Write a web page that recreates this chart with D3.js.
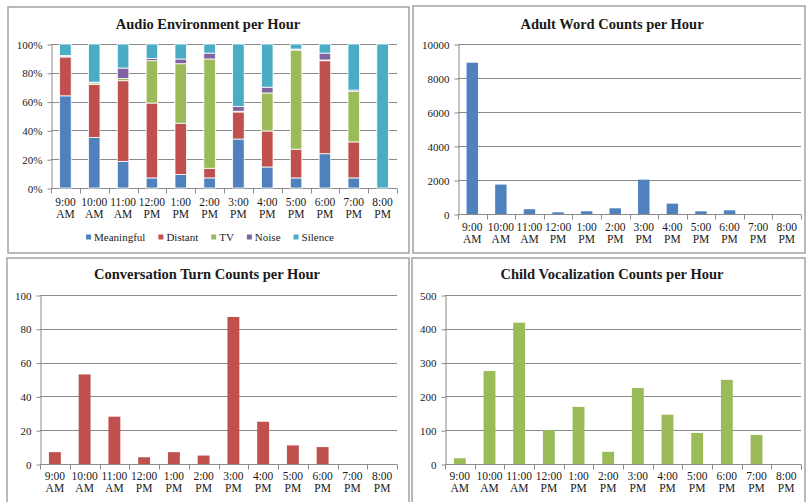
<!DOCTYPE html>
<html>
<head>
<meta charset="utf-8">
<script src="https://cdn.jsdelivr.net/npm/d3@7/dist/d3.min.js"></script>
<style>
  html, body { margin: 0; padding: 0; background: #fff; }
  svg { display: block; }
  text { font-family: "Liberation Serif", "Times New Roman", serif; fill: #1a1a1a; }
</style>
</head>
<body>
<svg id="chart" width="809" height="502"></svg>
<script>
// Hourly categories shared by all four panels
const hours = ["9:00 AM", "10:00 AM", "11:00 AM", "12:00 PM", "1:00 PM", "2:00 PM",
               "3:00 PM", "4:00 PM", "5:00 PM", "6:00 PM", "7:00 PM", "8:00 PM"];

// Audio environment shares (percent of each hour)
const audioKeys = ["Meaningful", "Distant", "TV", "Noise", "Silence"];
const meaningful = [64, 35, 18.5, 7, 9.3, 7, 34, 14.6, 7, 23.8, 7, 0];
const distant    = [27, 37, 56, 52, 35.7, 6.7, 18.8, 25, 20, 64.6, 25, 0];
const tv         = [0.5, 1, 1.5, 29.4, 41.3, 75.9, 0.5, 26.4, 68.8, 0.5, 35, 0];
const noise      = [0.5, 0.5, 7.3, 1.6, 3.3, 4.1, 3.4, 4, 0.7, 4.8, 1, 0];
const silence    = [8, 26.5, 16.7, 10, 10.4, 6.3, 43.3, 30, 3.5, 6.3, 32, 100];

// Hourly counts
const adultWords = [8900, 1730, 280, 100, 160, 335, 2020, 610, 157, 217, 0, 0];
const convTurns  = [7, 53, 28, 4, 7, 5, 87, 25, 11, 10, 0, 0];
const childVocs  = [17, 275, 418, 100, 169, 36, 225, 146, 92, 249, 86, 0];

// Tick values
const pctTicks   = [0, 0.2, 0.4, 0.6, 0.8, 1.0];
const wordTicks  = [0, 2000, 4000, 6000, 8000, 10000];
const turnTicks  = [0, 20, 40, 60, 80, 100];
const vocTicks   = [0, 100, 200, 300, 400, 500];

const colors = {
  Meaningful: "#4F81BD",
  Distant: "#C0504D",
  TV: "#9BBB59",
  Noise: "#8064A2",
  Silence: "#4BACC6"
};

const svg = d3.select("#chart");
const gridColor = "#8a8a8a";
const borderColor = "#a3a3a3";

function panelFrame(box) {
  svg.append("rect")
    .attr("x", box.x).attr("y", box.y)
    .attr("width", box.w).attr("height", box.h)
    .attr("fill", "#fff")
    .attr("stroke", borderColor)
    .attr("stroke-width", 1.5);
}

function setupPanel(p) {
  panelFrame(p.box);
  const x = d3.scaleBand().domain(hours).range([p.l, p.r])
    .paddingInner(0.6).paddingOuter(0.3);
  const y = d3.scaleLinear().domain([0, p.max]).range([p.b, p.t]);
  const g = svg.append("g");

  // horizontal gridlines
  g.append("g").selectAll("line").data(p.ticks).join("line")
    .attr("x1", p.l).attr("x2", p.r)
    .attr("y1", d => Math.round(y(d)) + 0.5).attr("y2", d => Math.round(y(d)) + 0.5)
    .attr("stroke", gridColor).attr("stroke-width", 1);

  // y axis
  const yAxis = d3.axisLeft(y).tickValues(p.ticks).tickFormat(p.fmt)
    .tickSize(4).tickPadding(5).tickSizeOuter(0);
  const ya = g.append("g").attr("transform", `translate(${Math.round(p.l) + 0.5},0.5)`).call(yAxis);
  ya.selectAll("path, line").attr("stroke", gridColor);
  ya.selectAll("text").style("font-size", "11px").attr("fill", "#1a1a1a")
    .style("font-family", '"Liberation Serif", "Times New Roman", serif');

  // x axis: category boundary ticks
  const step = x.step();
  const bounds = d3.range(hours.length + 1).map(i => p.l + i * step);
  g.append("g").selectAll("line").data(bounds).join("line")
    .attr("x1", d => Math.round(d) + 0.5).attr("x2", d => Math.round(d) + 0.5)
    .attr("y1", Math.round(p.b) + 0.5).attr("y2", Math.round(p.b) + 5.5)
    .attr("stroke", gridColor);

  // two-line category labels
  const lab = g.append("g").selectAll("text").data(hours).join("text")
    .attr("text-anchor", "middle")
    .attr("x", d => x(d) + x.bandwidth() / 2)
    .attr("y", p.b)
    .style("font-size", "11.5px");
  lab.append("tspan").attr("x", d => x(d) + x.bandwidth() / 2).attr("dy", p.lab1)
    .text(d => d.split(" ")[0]);
  lab.append("tspan").attr("x", d => x(d) + x.bandwidth() / 2).attr("dy", 12)
    .text(d => d.split(" ")[1]);

  // title
  svg.append("text")
    .attr("x", p.tx).attr("y", p.ty)
    .attr("text-anchor", "middle")
    .style("font-size", "14.5px").style("font-weight", "bold")
    .text(p.title);

  return { x, y, g };
}

// ---- Audio environment (100% stacked) ----
const audioRows = hours.map((h, i) => ({
  hour: h,
  Meaningful: meaningful[i], Distant: distant[i], TV: tv[i], Noise: noise[i], Silence: silence[i]
}));
const stacked = d3.stack().keys(audioKeys).offset(d3.stackOffsetExpand)(audioRows);

const pA = {
  box: { x: 8, y: 7, w: 401, h: 246 },
  l: 51, r: 397, t: 44, b: 188, max: 1, ticks: pctTicks, fmt: d3.format(".0%"),
  lab1: 18, tx: 208, ty: 29, title: "Audio Environment per Hour"
};
const A = setupPanel(pA);
A.g.append("g").selectAll("g").data(stacked).join("g")
  .attr("fill", d => colors[d.key])
  .selectAll("rect").data(d => d).join("rect")
  .attr("x", d => A.x(d.data.hour))
  .attr("width", A.x.bandwidth())
  .attr("y", d => A.y(d[1]))
  .attr("height", d => Math.max(0, A.y(d[0]) - A.y(d[1])))
  .attr("stroke", "#fff").attr("stroke-width", 0.8);

// legend
const leg = svg.append("g").attr("transform", "translate(0,237)");
let lx = 0;
const items = [];
audioKeys.forEach(k => {
  const it = leg.append("g");
  it.append("rect").attr("x", 0).attr("y", -2.5).attr("width", 5).attr("height", 5).attr("fill", colors[k]);
  const t = it.append("text").attr("x", 8).attr("y", 4).style("font-size", "11px").text(k);
  const w = 8 + t.node().getComputedTextLength();
  items.push({ it, w });
});
const gap = 13;
const total = d3.sum(items, d => d.w) + gap * (items.length - 1);
lx = 210 - total / 2;
items.forEach(d => { d.it.attr("transform", `translate(${lx},0)`); lx += d.w + gap; });

// ---- Count panels ----
function countPanel(p, values, color) {
  const P = setupPanel(p);
  P.g.append("g").selectAll("rect").data(hours).join("rect")
    .attr("x", d => P.x(d))
    .attr("width", P.x.bandwidth())
    .attr("y", (d, i) => P.y(values[i]))
    .attr("height", (d, i) => P.y(0) - P.y(values[i]))
    .attr("fill", color);
}

countPanel({
  box: { x: 413, y: 6, w: 392, h: 247 },
  l: 458, r: 801, t: 44, b: 214, max: 10000, ticks: wordTicks, fmt: d3.format("d"),
  lab1: 17, tx: 612, ty: 29, title: "Adult Word Counts per Hour"
}, adultWords, colors.Meaningful);

countPanel({
  box: { x: 7, y: 258, w: 402, h: 260 },
  l: 40, r: 397, t: 295, b: 464, max: 100, ticks: turnTicks, fmt: d3.format("d"),
  lab1: 16, tx: 207, ty: 279, title: "Conversation Turn Counts per Hour"
}, convTurns, colors.Distant);

countPanel({
  box: { x: 412, y: 258, w: 393, h: 260 },
  l: 445, r: 801, t: 295, b: 464, max: 500, ticks: vocTicks, fmt: d3.format("d"),
  lab1: 16, tx: 612, ty: 279, title: "Child Vocalization Counts per Hour"
}, childVocs, colors.TV);
</script>
</body>
</html>
